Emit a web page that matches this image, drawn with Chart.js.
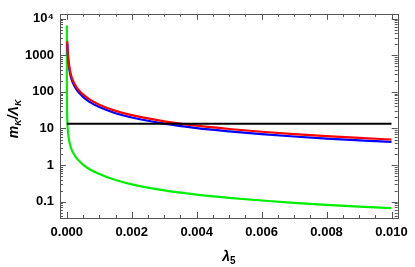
<!DOCTYPE html>
<html>
<head>
<meta charset="utf-8">
<script src="https://cdn.jsdelivr.net/npm/chart.js@4/dist/chart.umd.min.js"></script>
<style>
html,body{margin:0;padding:0;background:#fff;}
#wrap{width:415px;height:267px;position:relative;}
</style>
</head>
<body>
<div id="wrap"><canvas id="c"></canvas></div>
<script>
// lambda_5 sample points
const lambda5 = [0.00000003, 0.0000001, 0.0000003, 0.000001, 0.000002, 0.000005, 0.00001, 0.000015, 0.00002, 0.00003, 0.00005, 0.00007, 0.0001, 0.00015, 0.0002, 0.0003, 0.0004, 0.0005, 0.0007, 0.001, 0.0015, 0.002, 0.003, 0.004, 0.005, 0.006, 0.007, 0.008, 0.009, 0.01];
// m_K / Lambda_K curves
const redSeries   = [null, null, null, null, null, null, null, 2410, 1832, 1247, 750, 540, 370, 250, 192, 133, 104, 85, 62, 44.6, 30.3, 23.1, 15.7, 11.9, 9.66, 8.13, 7.02, 6.18, 5.53, 5.0];
const blueSeries  = [null, null, null, null, null, null, null, 2073, 1576, 1072, 645, 464, 318, 215, 165, 114, 89.4, 73.1, 53.3, 38.4, 26.1, 19.9, 13.5, 10.2, 8.31, 6.99, 6.04, 5.31, 4.76, 4.3];
const greenSeries = [6500, 2000, 700, 220, 110, 45, 22.7, 16.4, 13, 9.4, 6.3, 4.8, 3.6, 2.65, 2.13, 1.55, 1.25, 1.03, 0.77, 0.57, 0.391, 0.299, 0.205, 0.157, 0.128, 0.108, 0.093, 0.0825, 0.074, 0.067];
const blackLevel = 13.5;
const blackRange = [0, 0.01];
// ticks
const xTicks = [0, 0.002, 0.004, 0.006, 0.008, 0.010];
const yTicks = [0.1, 1, 10, 100, 1000, 10000];
const yTickLabels = ['0.1', '1', '10', '100', '1000', '10\u2074'];

function pts(ys){
  const out = [];
  lambda5.forEach((x,i)=>{ if (ys[i] !== null) out.push({x:x, y:ys[i]}); });
  return out;
}

const framePlugin = {
  id: 'frame',
  afterDraw(chart){
    const ctx = chart.ctx, a = chart.chartArea;
    const xs = chart.scales.x, ys = chart.scales.y;
    ctx.save();
    ctx.strokeStyle = '#555';
    ctx.lineWidth = 1;
    ctx.strokeRect(Math.round(a.left)+0.5, Math.round(a.top)+0.5, Math.round(a.right-a.left), Math.round(a.bottom-a.top));
    ctx.beginPath();
    for (let k=0;k<=20;k++){
      const v = k*0.0005;
      const p = Math.round(xs.getPixelForValue(v))+0.5;
      const len = (k%4===0)?6:3;
      ctx.moveTo(p, a.bottom); ctx.lineTo(p, a.bottom-len);
      ctx.moveTo(p, a.top); ctx.lineTo(p, a.top+len);
    }
    for (let d=-2; d<=4; d++){
      for (let m=1;m<=9;m++){
        const v = m*Math.pow(10,d);
        if (v < ys.min || v > ys.max) continue;
        const p = Math.round(ys.getPixelForValue(v))+0.5;
        const len = (m===1)?6:3;
        ctx.moveTo(a.left, p); ctx.lineTo(a.left+len, p);
        ctx.moveTo(a.right, p); ctx.lineTo(a.right-len, p);
      }
    }
    ctx.stroke();
    // axis titles
    ctx.fillStyle = '#000';
    ctx.textBaseline = 'alphabetic';
    const cx = (a.left+a.right)/2;
    ctx.font = 'bold italic 14px "Liberation Sans", "DejaVu Sans"';
    const w1 = ctx.measureText('\u03bb').width;
    ctx.font = 'bold 10px "Liberation Sans", "DejaVu Sans"';
    const w2 = ctx.measureText('5').width;
    let sx = cx - (w1+w2)/2;
    ctx.font = 'bold italic 14px "Liberation Sans", "DejaVu Sans"';
    ctx.fillText('\u03bb', sx, 261);
    ctx.font = 'bold 10px "Liberation Sans", "DejaVu Sans"';
    ctx.fillText('5', sx+w1, 264);
    ctx.translate(18, (a.top+a.bottom)/2 + 3);
    ctx.rotate(-Math.PI/2);
    const parts = [['m', false], ['K', true], ['/\u039b', false], ['K', true]];
    const fMain = 'bold italic 14px "Liberation Sans", "DejaVu Sans"';
    const fSub = 'bold italic 9px "Liberation Sans", "DejaVu Sans"';
    let tw = 0;
    parts.forEach(p=>{ ctx.font = p[1]?fSub:fMain; tw += ctx.measureText(p[0]).width; });
    let px = -tw/2;
    parts.forEach(p=>{
      ctx.font = p[1]?fSub:fMain;
      ctx.fillText(p[0], px, p[1]?3:0);
      px += ctx.measureText(p[0]).width;
    });
    ctx.restore();
  }
};

const tickFont = {family: '"Liberation Sans", "DejaVu Sans", Arial', size: 13, weight: 'bold'};

new Chart(document.getElementById('c'), {
  type: 'line',
  data: {
    datasets: [
      {data: [{x: blackRange[0], y: blackLevel}, {x: blackRange[1], y: blackLevel}], borderColor: '#000', borderWidth: 2},
      {data: pts(redSeries), borderColor: '#ff0000', borderWidth: 2.2, cubicInterpolationMode: 'monotone'},
      {data: pts(blueSeries), borderColor: '#0000ff', borderWidth: 2.2, cubicInterpolationMode: 'monotone'},
      {data: pts(greenSeries), borderColor: '#00ee00', borderWidth: 2.2, cubicInterpolationMode: 'monotone'}
    ]
  },
  options: {
    responsive: true,
    maintainAspectRatio: false,
    animation: false,
    devicePixelRatio: 1,
    layout: {padding: {top: 5, right: 12, left: 0, bottom: 0}},
    elements: {point: {radius: 0}},
    plugins: {legend: {display: false}, tooltip: {enabled: false}},
    scales: {
      x: {
        type: 'linear',
        min: -0.00021,
        max: 0.01019,
        grid: {display: false, drawTicks: false},
        border: {display: false},
        afterBuildTicks: s => { s.ticks = xTicks.map(v => ({value: v})); },
        afterFit: s => { s.height = 49; },
        ticks: {
          font: tickFont, color: '#000', padding: 7, maxRotation: 0, autoSkip: false,
          callback: v => Number(v).toFixed(3)
        }
      },
      y: {
        type: 'logarithmic',
        min: 0.036,
        max: 13500,
        grid: {display: false, drawTicks: false},
        border: {display: false},
        afterBuildTicks: s => { s.ticks = yTicks.map(v => ({value: v})); },
        afterFit: s => { s.width = 60; },
        ticks: {
          font: tickFont, color: '#000', padding: 6, autoSkip: false,
          callback: v => { const i = yTicks.findIndex(t => Math.abs(t - v) / t < 1e-6); return i >= 0 ? yTickLabels[i] : ''; }
        }
      }
    }
  },
  plugins: [framePlugin]
});
</script>
</body>
</html>
